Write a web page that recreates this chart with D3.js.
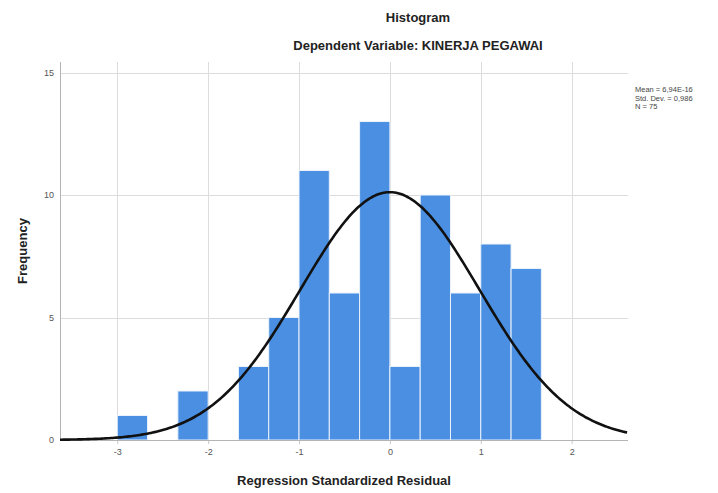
<!DOCTYPE html>
<html>
<head>
<meta charset="utf-8">
<script src="https://cdn.jsdelivr.net/npm/d3@7"></script>
<style>
    body { margin: 0; background: #fff; }
    svg { display: block; font-family: Arial, "Liberation Sans", sans-serif; }
</style>
</head>
<body>
<div id="chart"></div>
<script>

//******************************************************************************
//**  Data
//******************************************************************************
var binStarts = [-3, -7/3, -5/3, -4/3, -1, -2/3, -1/3, 0, 1/3, 2/3, 1, 4/3];
var counts    = [ 1,    2,    3,    5, 11,    6,   13, 3,  10,   6, 8,   7];
var binWidth = 1/3;

var xTicks = [-3, -2, -1, 0, 1, 2];
var yTicks = [0, 5, 10, 15];

var statLabels = ["Mean = 6,94E-16", "Std. Dev. = 0,986", "N = 75"];
var stats = { mean: 0, sd: 0.986, n: 75 };


//******************************************************************************
//**  Chart
//******************************************************************************
var width = 718, height = 493;
var plot = { left: 60, right: 628, top: 62, bottom: 440 };

var svg = d3.select("#chart").append("svg")
    .attr("width", width)
    .attr("height", height);

var x = d3.scaleLinear()
    .domain([-3.63, 2.62])
    .range([plot.left, plot.right]);

var y = d3.scaleLinear()
    .domain([0, 15.43])
    .range([plot.bottom, plot.top]);


//Gridlines
var grid = svg.append("g").attr("stroke", "#dcdcdc").attr("stroke-width", 1);
grid.selectAll(".vx").data(xTicks).enter().append("line")
    .attr("x1", function(d){ return Math.round(x(d))+0.5; })
    .attr("x2", function(d){ return Math.round(x(d))+0.5; })
    .attr("y1", plot.top)
    .attr("y2", plot.bottom);
grid.selectAll(".hy").data(yTicks.slice(1)).enter().append("line")
    .attr("x1", plot.left)
    .attr("x2", plot.right)
    .attr("y1", function(d){ return Math.round(y(d))+0.5; })
    .attr("y2", function(d){ return Math.round(y(d))+0.5; });


//Bars
svg.append("g").selectAll("rect").data(counts).enter().append("rect")
    .attr("x", function(d,i){ return x(binStarts[i]); })
    .attr("width", function(d,i){ return x(binStarts[i]+binWidth) - x(binStarts[i]); })
    .attr("y", function(d){ return y(d); })
    .attr("height", function(d){ return y(0) - y(d); })
    .attr("fill", "#4a8fe2")
    .attr("stroke", "#eaf2fc")
    .attr("stroke-width", 1);


//Axes (plain hyphen for negatives, like the original)
var fmt = function(d){ return d + ""; };
var xAxis = d3.axisBottom(x).tickValues(xTicks).tickSize(4).tickFormat(fmt);
var yAxis = d3.axisLeft(y).tickValues(yTicks).tickSize(0).tickPadding(6).tickFormat(fmt);

var gx = svg.append("g")
    .attr("transform", "translate(0," + plot.bottom + ")")
    .call(xAxis);
gx.select(".domain").remove();
gx.selectAll(".tick line").attr("stroke", "#c8c8c8");
gx.selectAll(".tick text").attr("fill", "#555").attr("font-size", 9).attr("dy", "0.9em");
svg.append("line")
    .attr("x1", plot.left).attr("x2", plot.right)
    .attr("y1", plot.bottom+0.5).attr("y2", plot.bottom+0.5)
    .attr("stroke", "#b4b4b4");

var gy = svg.append("g")
    .attr("transform", "translate(" + plot.left + ",0)")
    .call(yAxis);
gy.select(".domain").remove();
gy.selectAll(".tick text").attr("fill", "#555").attr("font-size", 9);
svg.append("line")
    .attr("x1", plot.left+0.5).attr("x2", plot.left+0.5)
    .attr("y1", plot.top).attr("y2", plot.bottom)
    .attr("stroke", "#b4b4b4");


//Normal curve, from mean, std. dev. and N
var peak = stats.n * binWidth / (stats.sd * Math.sqrt(2*Math.PI));
var curveX = d3.range(x.domain()[0], x.domain()[1] + 0.001, 0.02);
var line = d3.line()
    .x(function(d){ return x(d); })
    .y(function(d){
        var z = (d - stats.mean) / stats.sd;
        return y(peak * Math.exp(-0.5*z*z));
    });
svg.append("path")
    .attr("d", line(curveX))
    .attr("fill", "none")
    .attr("stroke", "#111")
    .attr("stroke-width", 2.6);


//Titles
svg.append("text")
    .attr("x", 418).attr("y", 22)
    .attr("text-anchor", "middle")
    .attr("font-size", 13).attr("font-weight", "bold").attr("fill", "#222")
    .text("Histogram");
svg.append("text")
    .attr("x", 418).attr("y", 50)
    .attr("text-anchor", "middle")
    .attr("font-size", 13).attr("font-weight", "bold").attr("fill", "#222")
    .text("Dependent Variable: KINERJA PEGAWAI");
svg.append("text")
    .attr("x", (plot.left+plot.right)/2).attr("y", 485)
    .attr("text-anchor", "middle")
    .attr("font-size", 13).attr("font-weight", "bold").attr("fill", "#222")
    .text("Regression Standardized Residual");
svg.append("text")
    .attr("transform", "translate(27," + (plot.top+plot.bottom)/2 + ") rotate(-90)")
    .attr("text-anchor", "middle")
    .attr("font-size", 13).attr("font-weight", "bold").attr("fill", "#222")
    .text("Frequency");


//Stats box
svg.append("g").selectAll("text").data(statLabels).enter().append("text")
    .attr("x", 635)
    .attr("y", function(d,i){ return 92 + i*8.5; })
    .attr("font-size", 7.5)
    .attr("fill", "#444")
    .text(function(d){ return d; });

</script>
</body>
</html>
